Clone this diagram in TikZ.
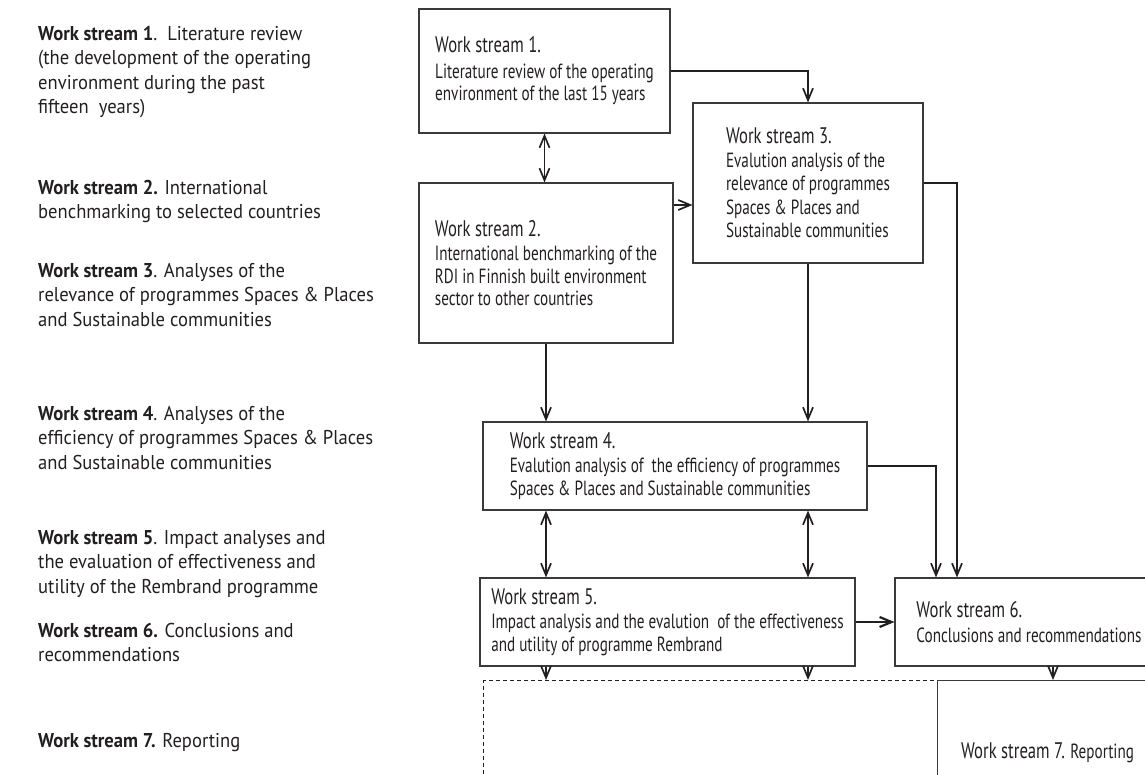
\documentclass[tikz,border=0pt]{standalone}
\usepackage{fontspec}
\setmainfont{PT Sans}
\newfontfamily\narrowfont[FakeStretch=0.74]{PT Sans}
\newfontfamily\sidefamily[FakeStretch=0.93]{PT Sans}
\usetikzlibrary{arrows.meta, positioning}
\definecolor{ink}{HTML}{231F20}
\definecolor{rule}{HTML}{3A3A3A}
\newcommand{\titlefont}{\fontsize{22.5}{26}\selectfont}
\newcommand{\descfont}{\narrowfont\fontsize{20.5}{22.5}\selectfont}
\newcommand{\sidefont}{\sidefamily\fontsize{20}{24.5}\selectfont}
\tikzset{
  wsbox/.style={draw=rule, line width=1.1pt, align=left, font=\descfont, text=ink, inner sep=0pt},
  side/.style={anchor=north west, align=left, font=\sidefont, text=ink, inner sep=0pt},
  flow/.style={-{Straight Barb[length=12pt,width=10pt]}, line width=1.7pt, color=ink},
  bothflow/.style={{Straight Barb[length=12pt,width=10pt]}-{Straight Barb[length=12pt,width=10pt]}, line width=1.7pt, color=ink},
}

\begin{document}
\begin{tikzpicture}[x=1pt,y=-1pt]
        \useasboundingbox (0,0) rectangle (1145,775);
        % left column
        \node[side] (s1) at (38,26) {\textbf{Work stream 1}.\ \ Literature review\\(the development of the operating\\environment during the past\\fifteen\ \ years)};
        \node[side] (s2) at (38,180) {\textbf{Work stream 2.} International\\benchmarking to selected countries};
        \node[side] (s3) at (38,263) {\textbf{Work stream 3}. Analyses of the\\relevance of programmes Spaces \& Places\\and Sustainable communities};
        \node[side] (s4) at (38,406) {\textbf{Work stream 4}. Analyses of the\\efficiency of programmes Spaces \& Places\\and Sustainable communities};
        \node[side] (s5) at (38,530) {\textbf{Work stream 5}. Impact analyses and\\the evaluation of effectiveness and\\utility of the Rembrand programme};
        \node[side] (s6) at (38,623) {\textbf{Work stream 6.} Conclusions and\\recommendations};
        \node[side] (s7) at (38,733) {\textbf{Work stream 7.} Reporting};
        % flow chart
        \node[wsbox,minimum width=251pt,minimum height=124pt] (ws1) at (544.5,71) {{\titlefont Work stream 1.}\\[3pt]Literature review of the operating\\environment of the last 15 years};
        \node[wsbox,minimum width=254pt,minimum height=160pt] (ws2) at (546,263) {{\titlefont Work stream 2.}\\[2pt]International benchmarking of the\\RDI in Finnish built environment\\sector to other countries};
        \node[wsbox,minimum width=230pt,minimum height=160pt] (ws3) at (808,183) {{\titlefont Work stream 3.}\\[1pt]Evalution analysis of the\\[1pt]relevance of programmes\\[1pt]Spaces \& Places and\\[1pt]Sustainable communities};
        \node[wsbox,minimum width=384pt,minimum height=88pt] (ws4) at (675,466) {{\titlefont Work stream 4.}\\[2pt]Evalution analysis of\ \ the efficiency of programmes\\Spaces \& Places and Sustainable communities};
        \node[wsbox,minimum width=375pt,minimum height=88pt] (ws5) at (667.5,622) {{\titlefont Work stream 5.}\\[2pt]Impact analysis and the evalution\ \ of the effectiveness\\and utility of programme Rembrand};
        \node[wsbox,minimum width=268pt,minimum height=88pt] (ws6) at (1029,622) {{\titlefont Work stream 6.}\\[2pt]Conclusions and recommendations};
        \node[wsbox,draw=ink,line width=1pt,dash pattern=on 4pt off 3pt,anchor=north west,minimum width=720pt,minimum height=200pt] (report) at (483,680) {};
        \node[wsbox,anchor=north west,minimum width=220pt,minimum height=144pt] (ws7) at (937,680) {{\titlefont Work stream 7.} Reporting};
        % connectors
        \draw[flow] (ws1.east) -| (ws3.north);
        \draw[bothflow] (ws1.south) -- (ws1.south |- ws2.north);
        \draw[flow] ([yshift=58pt]ws2.east) -- ([yshift=58pt]ws2.east -| ws3.west);
        \draw[flow] (ws2.south) -- (ws2.south |- ws4.north);
        \draw[flow] (ws3.south) -- (ws3.south |- ws4.north);
        \draw[flow] (ws3.east) -| ([xshift=-72pt]ws6.north);
        \draw[flow] (ws4.east) -| ([xshift=-93pt]ws6.north);
        \foreach \c in {ws2,ws3} {
          \draw[bothflow] (\c.south |- ws4.south) -- (\c.south |- ws5.north);
          \draw[flow] (\c.south |- ws5.south) -- (\c.south |- report.north);
        }
        \draw[flow,line width=2.2pt] (ws5.east) -- (ws6.west);
        \draw[flow] ([xshift=24pt]ws6.south) -- ([xshift=24pt]ws6.south |- report.north);
\end{tikzpicture}
\end{document}
